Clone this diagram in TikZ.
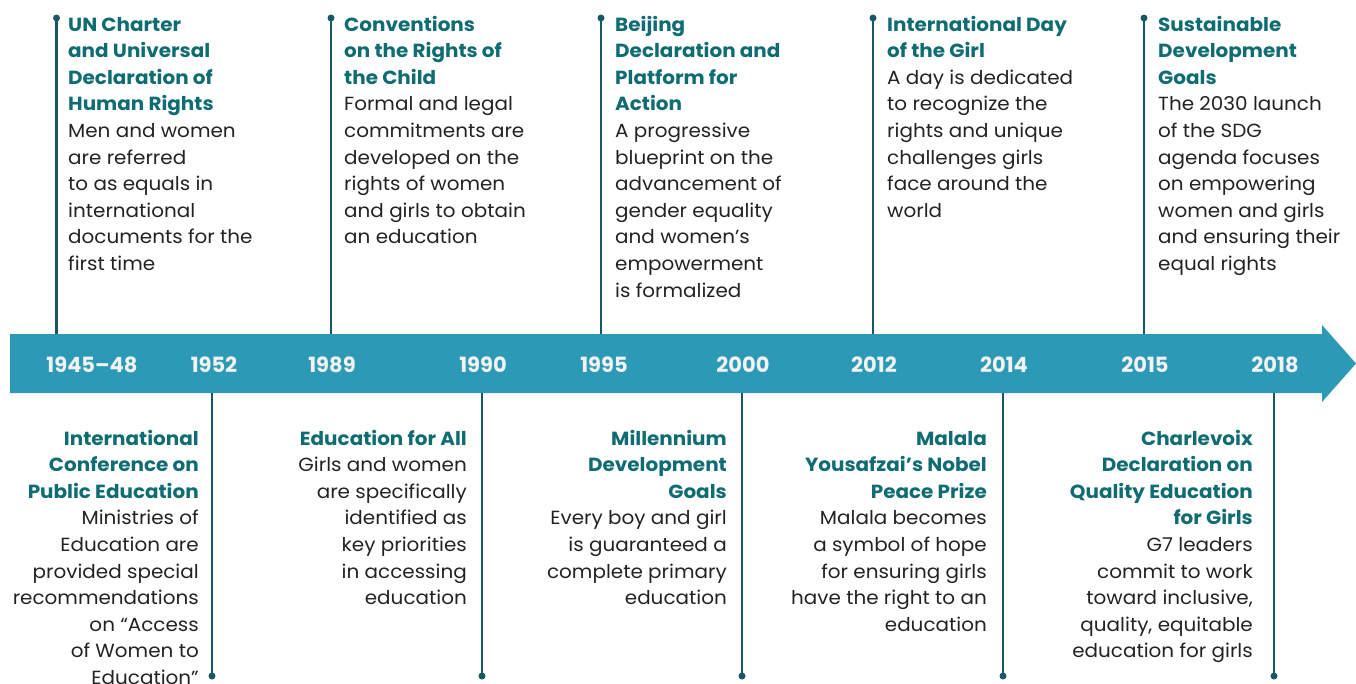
\documentclass[tikz,border=0pt]{standalone}
\usepackage{fontspec}
\setmainfont{Poppins}[FakeStretch=1.05]
\newfontfamily\yearfont{Poppins}
\definecolor{bandc}{HTML}{2C9AB7}
\definecolor{titlec}{HTML}{0E6C72}
\definecolor{stemc}{HTML}{1A5766}
\definecolor{bodyc}{HTML}{222222}
\definecolor{yearc}{HTML}{F2F2F2}
\newcommand\tl[1]{{\bfseries\color{titlec}#1}}
\tikzset{
  band/.style={fill=bandc},
  stem/.style={draw=stemc, line width=2.6pt},
  dotnode/.style={circle, fill=stemc, inner sep=0pt, minimum size=7pt},
  evtext/.style={inner sep=0pt, text=bodyc, font=\fontsize{19}{26.6}\selectfont},
  yeartext/.style={inner sep=0pt, text=yearc, font=\yearfont\fontsize{21}{24}\selectfont\bfseries},
}
\begin{document}
\begin{tikzpicture}[x=1pt,y=-1pt]
\useasboundingbox (0,0) rectangle (1356,683);
% timeline band
\fill[band] (10,334) -- (1322,334) -- (1322,325) -- (1356,363.5) -- (1322,402) -- (1322,393) -- (10,393) -- cycle;

% years
\node[yeartext] (y1) at (92,365) {1945–48};
\node[yeartext] (y2) at (214,365) {1952};
\node[yeartext] (y3) at (332,365) {1989};
\node[yeartext] (y4) at (483,365) {1990};
\node[yeartext] (y5) at (604,365) {1995};
\node[yeartext] (y6) at (743,365) {2000};
\node[yeartext] (y7) at (874,365) {2012};
\node[yeartext] (y8) at (1004,365) {2014};
\node[yeartext] (y9) at (1145,365) {2015};
\node[yeartext] (y10) at (1275,365) {2018};

% top stems
\foreach \n/\x in {a/56.5,b/331,c/601,d/873,e/1144}{
  \node[dotnode] (td\n) at (\x,18) {};
  \coordinate (tb\n) at (\x,334);
  \draw[stem] (td\n.center) -- (tb\n);
}
% bottom stems
\foreach \n/\x in {a/212,b/482,c/742,d/1003,e/1274}{
  \node[dotnode] (bd\n) at (\x,676) {};
  \coordinate (bb\n) at (\x,393);
  \draw[stem] (bb\n) -- (bd\n.center);
}

% top texts
\node[evtext, anchor=base west] (ta) at (68,31) {\begin{tabular}[t]{@{}l@{}}
\tl{UN Charter}\\ \tl{and Universal}\\ \tl{Declaration of}\\ \tl{Human Rights}\\
Men and women\\ are referred\\ to as equals in\\ international\\ documents for the\\ first time
\end{tabular}};
\node[evtext, anchor=base west] (tb) at (344,31) {\begin{tabular}[t]{@{}l@{}}
\tl{Conventions}\\ \tl{on the Rights of}\\ \tl{the Child}\\
Formal and legal\\ commitments are\\ developed on the\\ rights of women\\ and girls to obtain\\ an education
\end{tabular}};
\node[evtext, anchor=base west] (tc) at (615,31) {\begin{tabular}[t]{@{}l@{}}
\tl{Beijing}\\ \tl{Declaration and}\\ \tl{Platform for}\\ \tl{Action}\\
A progressive\\ blueprint on the\\ advancement of\\ gender equality\\ and women’s\\ empowerment\\ is formalized
\end{tabular}};
\node[evtext, anchor=base west] (td) at (887,31) {\begin{tabular}[t]{@{}l@{}}
\tl{International Day}\\ \tl{of the Girl}\\
A day is dedicated\\ to recognize the\\ rights and unique\\ challenges girls\\ face around the\\ world
\end{tabular}};
\node[evtext, anchor=base west] (te) at (1158,31) {\begin{tabular}[t]{@{}l@{}}
\tl{Sustainable}\\ \tl{Development}\\ \tl{Goals}\\
The 2030 launch\\ of the SDG\\ agenda focuses\\ on empowering\\ women and girls\\ and ensuring their\\ equal rights
\end{tabular}};

% bottom texts
\node[evtext, anchor=base east] (ba) at (199,445) {\begin{tabular}[t]{@{}r@{}}
\tl{International}\\ \tl{Conference on}\\ \tl{Public Education}\\
Ministries of\\ Education are\\ provided special\\ recommendations\\ on “Access\\ of Women to\\ Education”
\end{tabular}};
\node[evtext, anchor=base east] (bb) at (467,445) {\begin{tabular}[t]{@{}r@{}}
\tl{Education for All}\\
Girls and women\\ are specifically\\ identified as\\ key priorities\\ in accessing\\ education
\end{tabular}};
\node[evtext, anchor=base east] (bc) at (727,445) {\begin{tabular}[t]{@{}r@{}}
\tl{Millennium}\\ \tl{Development}\\ \tl{Goals}\\
Every boy and girl\\ is guaranteed a\\ complete primary\\ education
\end{tabular}};
\node[evtext, anchor=base east] (bd) at (987,445) {\begin{tabular}[t]{@{}r@{}}
\tl{Malala}\\ \tl{Yousafzai’s Nobel}\\ \tl{Peace Prize}\\
Malala becomes\\ a symbol of hope\\ for ensuring girls\\ have the right to an\\ education
\end{tabular}};
\node[evtext, anchor=base east] (be) at (1253,445) {\begin{tabular}[t]{@{}r@{}}
\tl{Charlevoix}\\ \tl{Declaration on}\\ \tl{Quality Education}\\ \tl{for Girls}\\
G7 leaders\\ commit to work\\ toward inclusive,\\ quality, equitable\\ education for girls
\end{tabular}};
\end{tikzpicture}
\end{document}
